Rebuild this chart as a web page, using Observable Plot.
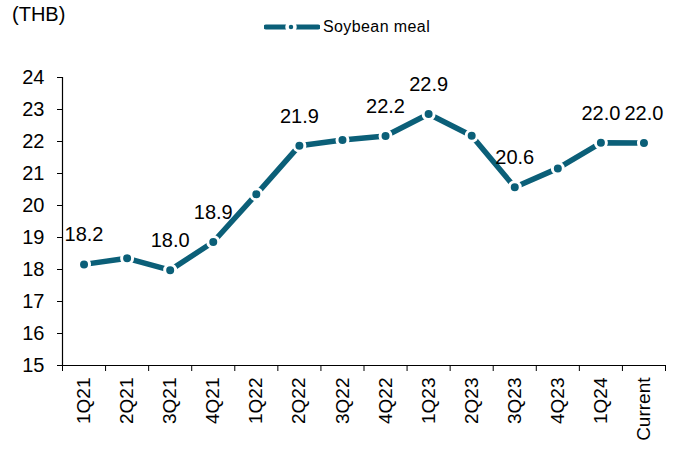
<!DOCTYPE html>
<html>
<head>
<meta charset="utf-8">
<script src="https://cdn.jsdelivr.net/npm/d3@7"></script>
<script src="https://cdn.jsdelivr.net/npm/@observablehq/plot@0.6"></script>
<style>
  html, body { margin: 0; padding: 0; background: #fff; }
  #wrap { position: relative; width: 680px; height: 450px; font-family: "Liberation Sans", Arial, sans-serif; }
  #unit { position: absolute; left: 12px; top: 3px; font-size: 20px; color: #000; }
  #legend { position: absolute; left: 264px; top: 18px; font-size: 16px; color: #000; display: flex; align-items: center; letter-spacing: 0.4px; }
  #legend svg { margin-right: 3px; }
</style>
</head>
<body>
<div id="wrap">
  <div id="unit">(THB)</div>
  <div id="legend"></div>
</div>
<script>
const categories = ["1Q21","2Q21","3Q21","4Q21","1Q22","2Q22","3Q22","4Q22","1Q23","2Q23","3Q23","4Q23","1Q24","Current"];
const values = [18.16,18.35,17.98,18.86,20.35,21.87,22.05,22.17,22.86,22.18,20.57,21.16,21.96,21.95];
const labels = ["18.2","","18.0","18.9","","21.9","","22.2","22.9","","20.6","","22.0","22.0"];
const yTicks = [15,16,17,18,19,20,21,22,23,24];
const seriesName = "Soybean meal";
const color = "#0b5f78";

const data = categories.map((c, i) => ({cat: c, idx: i + 0.5, value: values[i], label: labels[i]}));

const chart = Plot.plot({
  width: 680,
  height: 450,
  marginLeft: 62,
  marginRight: 15,
  marginTop: 77,
  marginBottom: 85,
  style: {fontFamily: "'Liberation Sans', Arial, sans-serif", fontSize: "20px", color: "#000", background: "transparent"},
  x: {type: "linear", domain: [0, categories.length]},
  y: {domain: [15, 24]},
  marks: [
    Plot.axisY({ticks: yTicks, tickSize: 5, tickPadding: 13, fontSize: 20, label: null}),
    Plot.axisX({ticks: d3.range(categories.length + 1), tickFormat: () => "", tickSize: 6, label: null}),
    Plot.axisX(data.map(d => d.idx), {tickSize: 0, tickRotate: -90, tickPadding: 12, fontSize: 19, tickFormat: d => categories[Math.floor(d)], label: null}),
    Plot.ruleX([0], {stroke: "#000", strokeWidth: 1.2}),
    Plot.ruleY([15], {stroke: "#000", strokeWidth: 1.2}),
    Plot.line(data, {x: "idx", y: "value", stroke: color, strokeWidth: 5.5}),
    Plot.dot(data, {x: "idx", y: "value", r: 5.5, fill: color, stroke: "#fff", strokeWidth: 3}),
    Plot.text(data, {x: "idx", y: "value", text: "label", dy: -23, lineAnchor: "bottom", fontSize: 20, fill: "#000"})
  ]
});
const wrap = document.getElementById("wrap");
chart.style.position = "absolute";
chart.style.left = "0";
chart.style.top = "0";
wrap.insertBefore(chart, wrap.firstChild);

// legend swatch
const leg = document.getElementById("legend");
const sw = d3.create("svg").attr("width", 56).attr("height", 14);
sw.append("line").attr("x1", 2).attr("x2", 54).attr("y1", 7).attr("y2", 7)
  .attr("stroke", color).attr("stroke-width", 5).attr("stroke-linecap", "round");
sw.append("circle").attr("cx", 27).attr("cy", 7).attr("r", 4).attr("fill", color).attr("stroke", "#fff").attr("stroke-width", 3.5);
leg.appendChild(sw.node());
const t = document.createElement("span");
t.textContent = seriesName;
leg.appendChild(t);
</script>
</body>
</html>
